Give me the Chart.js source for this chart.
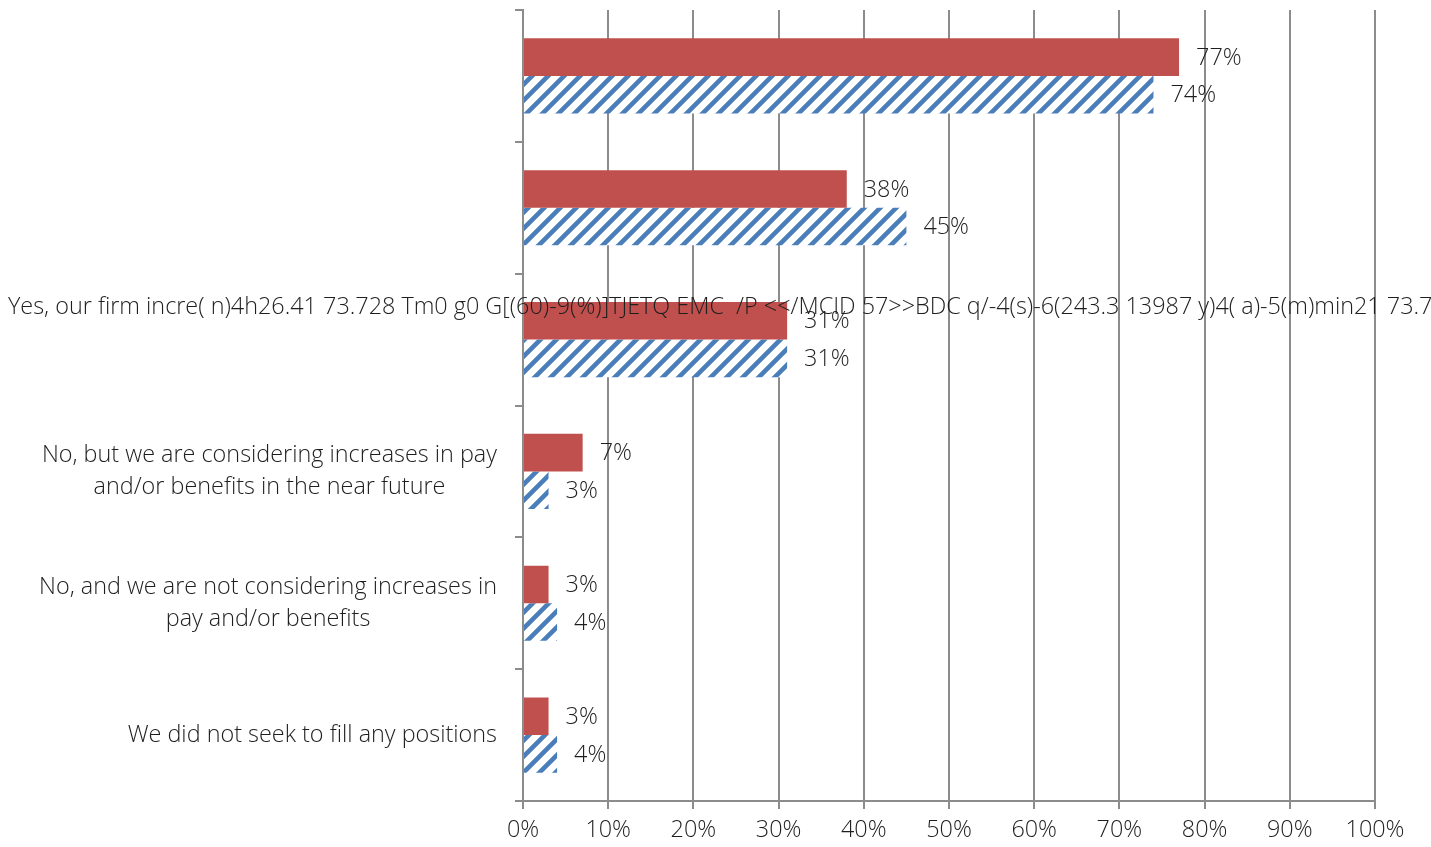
<!DOCTYPE html>
<html>
<head>
<meta charset="utf-8">
<script src="https://cdn.jsdelivr.net/npm/chart.js@4/dist/chart.umd.min.js"></script>
<style>
  html, body { margin: 0; padding: 0; background: #ffffff; }
  #wrap { width: 1431px; height: 847px; }
</style>
</head>
<body>
<div id="wrap"><canvas id="c" width="1431" height="847"></canvas></div>
<script>
const categories = [
  "",
  "",
  ["Yes, our firm incre( n)4h26.41 73.728 Tm0 g0 G[(60)-9(%)]TJETQ EMC  /P <</MCID 57>>BDC q/-4(s)-6(243.3 13987 y)4( a)-5(m)min21 73.7", "", ""],
  ["No, but we are considering increases in pay", "and/or benefits in the near future"],
  ["No, and we are not considering increases in", "pay and/or benefits"],
  "We did not seek to fill any positions"
];
const seriesRed = [77, 38, 31, 7, 3, 3];
const seriesBlue = [74, 45, 31, 3, 4, 4];
const xTicks = [0, 10, 20, 30, 40, 50, 60, 70, 80, 90, 100];

const FONT_FAMILY = "'Open Sans', Roboto, sans-serif";
const FONT_WEIGHT = 300;
const FONT_SIZE = 23.4;
const TEXT_COLOR = "#1e1e1e";
const AXIS_COLOR = "#8c8c8c";

function makeHatch() {
  const s = 16;
  const c = document.createElement("canvas");
  c.width = s; c.height = s;
  const g = c.getContext("2d");
  g.fillStyle = "#ffffff";
  g.fillRect(0, 0, s, s);
  g.strokeStyle = "#4a7ebb";
  g.lineWidth = 4.6;
  g.lineCap = "square";
  g.beginPath();
  g.moveTo(-2, s + 2); g.lineTo(s + 2, -2);
  g.moveTo(-2, 2); g.lineTo(2, -2);
  g.moveTo(s - 2, s + 2); g.lineTo(s + 2, s - 2);
  g.stroke();
  return document.getElementById("c").getContext("2d").createPattern(c, "repeat");
}

const fontStr = `${FONT_WEIGHT} ${FONT_SIZE}px ${FONT_FAMILY}`;

const valueLabels = {
  id: "valueLabels",
  afterDatasetsDraw(chart) {
    const ctx = chart.ctx;
    ctx.save();
    ctx.font = fontStr;
    ctx.fillStyle = TEXT_COLOR;
    ctx.textAlign = "left";
    ctx.textBaseline = "middle";
    chart.data.datasets.forEach((ds, di) => {
      const meta = chart.getDatasetMeta(di);
      meta.data.forEach((bar, i) => {
        ctx.fillText(ds.data[i] + "%", bar.x + 17, bar.y + 1);
      });
    });
    ctx.restore();
  }
};

const categoryLabels = {
  id: "categoryLabels",
  afterDraw(chart) {
    const ctx = chart.ctx;
    const y = chart.scales.y;
    const rightEdge = y.right - 26;
    const lineH = 32;
    ctx.save();
    ctx.font = fontStr;
    ctx.fillStyle = TEXT_COLOR;
    ctx.textBaseline = "middle";
    chart.data.labels.forEach((lab, i) => {
      const lines = Array.isArray(lab) ? lab : [lab];
      const cy = y.getPixelForValue(i);
      const widths = lines.map(l => ctx.measureText(l).width);
      const blockW = Math.max(...widths);
      const blockLeft = Math.max(8, rightEdge - blockW);
      const top = cy - (lines.length - 1) * lineH / 2;
      lines.forEach((l, k) => {
        if (!l) return;
        let x;
        if (blockW > rightEdge - 8) {
          ctx.textAlign = "left"; x = blockLeft;
        } else {
          ctx.textAlign = "center"; x = blockLeft + blockW / 2;
        }
        ctx.fillText(l, x, top + k * lineH);
      });
    });
    ctx.restore();
  }
};

const ctx = document.getElementById("c").getContext("2d");
new Chart(ctx, {
  type: "bar",
  data: {
    labels: categories,
    datasets: [
      { label: "Series 1", data: seriesRed, backgroundColor: "#c0504d", borderWidth: 0, barPercentage: 1, categoryPercentage: 0.57 },
      { label: "Series 2", data: seriesBlue, backgroundColor: makeHatch(), borderWidth: 0, barPercentage: 1, categoryPercentage: 0.57 }
    ]
  },
  options: {
    indexAxis: "y",
    responsive: false,
    animation: false,
    layout: { padding: { left: 0, right: 56, top: 10, bottom: 0 } },
    scales: {
      x: {
        min: 0, max: 100,
        afterBuildTicks: s => { s.ticks = xTicks.map(v => ({ value: v })); },
        ticks: {
          callback: v => v + "%",
          font: { family: FONT_FAMILY, size: FONT_SIZE, weight: FONT_WEIGHT },
          color: TEXT_COLOR,
          padding: 7,
          maxRotation: 0
        },
        grid: { color: AXIS_COLOR, lineWidth: 2, tickLength: 8, z: -1 },
        border: { color: AXIS_COLOR, width: 2 },
        afterFit: s => { s.height = 46; }
      },
      y: {
        ticks: { display: false },
        grid: { drawOnChartArea: false, offset: true, tickLength: 8, color: AXIS_COLOR, lineWidth: 2 },
        border: { color: AXIS_COLOR, width: 2 },
        afterFit: s => { s.width = 523; }
      }
    },
    plugins: { legend: { display: false }, tooltip: { enabled: false } }
  },
  plugins: [valueLabels, categoryLabels]
});
</script>
</body>
</html>
